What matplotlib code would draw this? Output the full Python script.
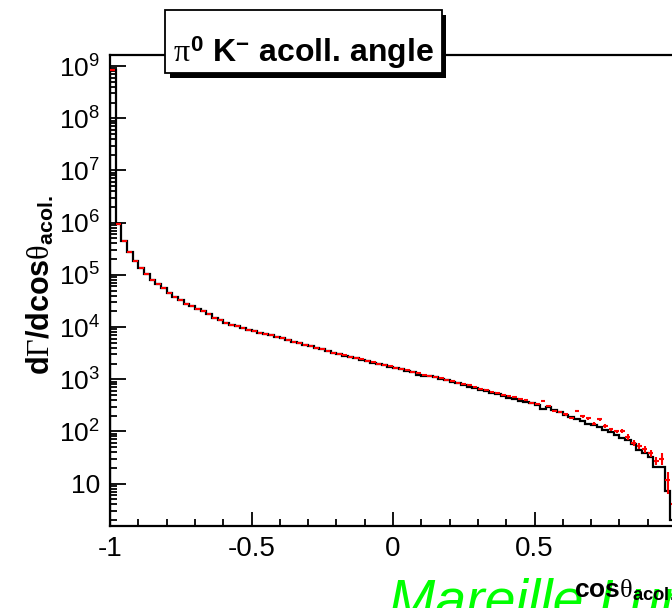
import numpy as np
import matplotlib
matplotlib.use("Agg")
import matplotlib.pyplot as plt
from matplotlib.patches import Rectangle
from matplotlib.ticker import FixedLocator, FixedFormatter, LogLocator, NullFormatter, MultipleLocator

# histogram (black) and data points (red), log10 of dGamma/dcos per bin, 100 bins on [-1, 1]
hist_log10 = [8.92, 5.98, 5.655, 5.44, 5.27, 5.13, 5.01, 4.91, 4.82, 4.74,
              4.66, 4.58, 4.52, 4.45, 4.40, 4.34, 4.30, 4.24, 4.18, 4.13,
              4.08, 4.04, 4.01, 3.98, 3.95, 3.92, 3.89, 3.86, 3.84, 3.81,
              3.78, 3.75, 3.72, 3.69, 3.66, 3.63, 3.60, 3.57, 3.54, 3.50,
              3.48, 3.45, 3.43, 3.40, 3.37, 3.35, 3.32, 3.29, 3.27, 3.24,
              3.21, 3.19, 3.16, 3.14, 3.09, 3.07, 3.06, 3.04, 3.01, 2.98,
              2.95, 2.92, 2.89, 2.86, 2.83, 2.80, 2.77, 2.74, 2.71, 2.67,
              2.64, 2.62, 2.59, 2.57, 2.54, 2.51, 2.43, 2.46, 2.41, 2.37,
              2.32, 2.28, 2.24, 2.20, 2.15, 2.12, 2.08, 2.03, 1.98, 1.93,
              1.88, 1.84, 1.75, 1.64, 1.59, 1.51, 1.31, 1.31, 0.85, 0.30]

data_log10 = [8.92, 5.98, 5.655, 5.44, 5.27, 5.13, 5.01, 4.91, 4.82, 4.74,
              4.66, 4.58, 4.52, 4.45, 4.40, 4.34, 4.30, 4.24, 4.18, 4.13,
              4.08, 4.04, 4.01, 3.98, 3.95, 3.92, 3.89, 3.86, 3.84, 3.81,
              3.78, 3.75, 3.72, 3.69, 3.66, 3.63, 3.60, 3.57, 3.54, 3.51,
              3.48, 3.46, 3.43, 3.41, 3.38, 3.35, 3.33, 3.30, 3.27, 3.25,
              3.22, 3.19, 3.17, 3.14, 3.11, 3.09, 3.07, 3.05, 3.02, 2.99,
              2.96, 2.93, 2.91, 2.88, 2.85, 2.82, 2.79, 2.76, 2.74, 2.70,
              2.67, 2.65, 2.62, 2.60, 2.55, 2.53, 2.59, 2.49, 2.40, 2.38,
              2.33, 2.26, 2.39, 2.29, 2.25, 2.15, 2.23, 2.11, 2.04, 2.00,
              2.01, 1.90, 1.78, 1.72, 1.66, 1.58, 1.44, 1.48, 1.07, 0.60]

# relative errors of the data points
data_relerr = [0.0] * 60 + [0.02, 0.02, 0.02, 0.02, 0.02, 0.02, 0.02, 0.02, 0.02, 0.02,
                            0.04, 0.04, 0.04, 0.04, 0.04, 0.04, 0.04, 0.04, 0.04, 0.04,
                            0.06, 0.06, 0.06, 0.06, 0.06, 0.06, 0.08, 0.08, 0.08, 0.08,
                            0.09, 0.12, 0.12, 0.12, 0.15, 0.15, 0.19, 0.25, 0.45, 0.60]

x_ticks = [-1, -0.5, 0, 0.5, 1]
x_ticklabels = ["-1", "-0.5", "0", "0.5", ""]
y_ticks = [1e1, 1e2, 1e3, 1e4, 1e5, 1e6, 1e7, 1e8, 1e9]
y_ticklabels = ["10"] + [r"$\mathregular{10^{%d}}$" % k for k in range(2, 10)]

plt.rcParams['font.family'] = ['Liberation Sans', 'DejaVu Sans']
plt.rcParams['mathtext.fontset'] = 'custom'
plt.rcParams['mathtext.rm'] = 'Liberation Serif'
plt.rcParams['mathtext.it'] = 'Liberation Serif'
plt.rcParams['mathtext.bf'] = 'Liberation Sans:bold'
plt.rcParams['axes.unicode_minus'] = False

W, H = 672, 608
fig = plt.figure(figsize=(W / 100, H / 100), dpi=100)
ax = fig.add_axes([110 / W, 82 / H, 566 / W, 471 / H])

edges = np.linspace(-1, 1, len(hist_log10) + 1)
centers = 0.5 * (edges[:-1] + edges[1:])
hist = 10 ** np.array(hist_log10)
data = 10 ** np.array(data_log10)
err = data * np.array(data_relerr)

ax.stairs(hist, edges, baseline=1.0, color='black', lw=1.6, zorder=2)
ax.errorbar(centers, data, xerr=0.0085, yerr=err, fmt='none', ecolor='red',
            elinewidth=1.5, capsize=0, zorder=3)

ax.set_yscale('log')
ax.set_xlim(-1, 1)
ax.set_ylim(10 ** 0.188, 10 ** 9.211)

ax.xaxis.set_major_locator(FixedLocator(x_ticks))
ax.xaxis.set_major_formatter(FixedFormatter(x_ticklabels))
ax.xaxis.set_minor_locator(MultipleLocator(0.1))
ax.yaxis.set_major_locator(FixedLocator(y_ticks))
ax.yaxis.set_major_formatter(FixedFormatter(y_ticklabels))
ax.yaxis.set_minor_locator(LogLocator(base=10, subs=np.arange(2, 10), numticks=20))
ax.yaxis.set_minor_formatter(NullFormatter())

ax.tick_params(axis='both', which='both', direction='in', top=False, right=False, width=1.3)
ax.tick_params(axis='x', which='major', length=10, pad=7, labelsize=20)
ax.tick_params(axis='x', which='minor', length=5)
ax.tick_params(axis='y', which='major', length=11.5, pad=7, labelsize=19)
ax.tick_params(axis='y', which='minor', length=5)
for s in ax.spines.values():
    s.set_linewidth(1.6)

# title box with shadow
fig.add_artist(Rectangle((170 / W, 1 - 78 / H), 276 / W, 63 / H, transform=fig.transFigure,
                         facecolor='black', edgecolor='none', zorder=5))
fig.add_artist(Rectangle((165 / W, 1 - 73 / H), 277 / W, 63 / H, transform=fig.transFigure,
                         facecolor='white', edgecolor='black', lw=1.3, zorder=6))
fig.text(303 / W, 1 - 62 / H, r"$\pi^{\mathbf{0}}$ K$^{\mathbf{-}}$ acoll. angle",
         ha='center', va='baseline', fontsize=23, fontweight='bold', zorder=7)

# axis titles
fig.text(41 / W, 1 - 285 / H, r"d$\Gamma$/dcos$\theta_{\mathbf{acol.}}$", rotation=90,
         ha='center', va='center', fontsize=22, fontweight='bold', zorder=7)

fig.text(389 / W, 1 - 617 / H, "Mareille Lumin", color='#00ff00', fontsize=40,
         fontstyle='italic', ha='left', va='baseline', zorder=6)
fig.text(574 / W, 1 - 597 / H, r"cos$\theta_{\mathbf{acol.}}$", ha='left', va='baseline',
         fontsize=19, fontweight='bold', zorder=7)

fig.savefig("out.png", dpi=100)
